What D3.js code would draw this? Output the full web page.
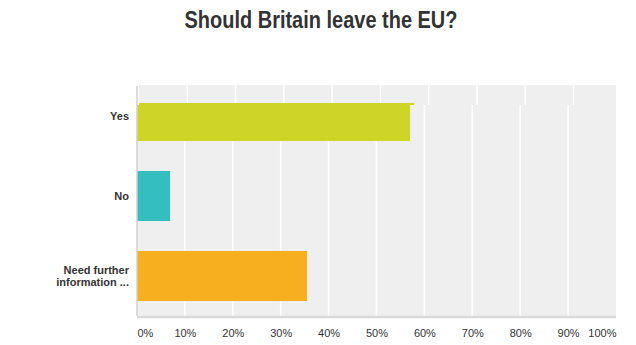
<!DOCTYPE html>
<html>
<head>
<meta charset="utf-8">
<script src="https://cdn.jsdelivr.net/npm/d3@7/dist/d3.min.js"></script>
<style>
  html, body { margin: 0; padding: 0; background: #fff; }
  svg { display: block; font-family: "Liberation Sans", Arial, sans-serif; }
</style>
</head>
<body>
<svg id="chart" width="636" height="345"></svg>
<script>
// Survey answers and their share of responses (percent)
const categories = ["Yes", "No", "Need further information ..."];
const categoryLines = [["Yes"], ["No"], ["Need further", "information ..."]];
const values = [57.0, 6.9, 35.5];
const colors = ["#cfd527", "#34bebf", "#f7af1f"];
const tickValues = [0, 10, 20, 30, 40, 50, 60, 70, 80, 90, 100];
const tickLabels = ["0%", "10%", "20%", "30%", "40%", "50%", "60%", "70%", "80%", "90%", "100%"];
const title = "Should Britain leave the EU?";

const svg = d3.select("#chart");
const plotLeft = 137, plotRight = 616, plotTop = 85, plotBottom = 316, headerBottom = 105;

const x = d3.scaleLinear().domain([0, 100]).range([plotLeft, plotRight]);
const y = d3.scaleBand().domain(categories).range([76, plotBottom])
  .paddingInner(0.375).paddingOuter(0.1875);

// Title
svg.append("text")
  .attr("x", 321).attr("y", 28)
  .attr("text-anchor", "middle")
  .attr("font-size", 23).attr("font-weight", "bold")
  .attr("fill", "#333")
  .attr("textLength", 273).attr("lengthAdjust", "spacingAndGlyphs")
  .text(title);

const defs = svg.append("defs");
defs.append("clipPath").attr("id", "clipMain")
  .append("rect").attr("x", plotLeft).attr("y", headerBottom)
  .attr("width", plotRight - plotLeft).attr("height", plotBottom - headerBottom);
defs.append("clipPath").attr("id", "clipHead")
  .append("rect").attr("x", plotLeft).attr("y", plotTop)
  .attr("width", plotRight - plotLeft).attr("height", headerBottom - plotTop);

// Draws background, grid and bars into a group
function drawPlot(g) {
  g.append("rect")
    .attr("x", plotLeft).attr("y", 60)
    .attr("width", plotRight - plotLeft + 20).attr("height", plotBottom - 60)
    .attr("fill", "#efefef");
  g.selectAll("line.grid")
    .data(tickValues.slice(1, -1))
    .join("line")
    .attr("class", "grid")
    .attr("x1", d => x(d)).attr("x2", d => x(d))
    .attr("y1", 60).attr("y2", plotBottom)
    .attr("stroke", "#fff").attr("stroke-width", 1.6);
  g.selectAll("rect.bar")
    .data(values)
    .join("rect")
    .attr("class", "bar")
    .attr("x", x(0))
    .attr("y", (d, i) => y(categories[i]))
    .attr("width", d => x(d) - x(0))
    .attr("height", y.bandwidth())
    .attr("fill", (d, i) => colors[i]);
}

// Main plot body
const mainG = svg.append("g").attr("clip-path", "url(#clipMain)");
drawPlot(mainG);

// Header band of the plot, slightly offset
const headWrap = svg.append("g").attr("clip-path", "url(#clipHead)");
const headG = headWrap.append("g")
  .attr("transform", `translate(139,12) scale(1.008,1) translate(${-plotLeft},0)`);
drawPlot(headG);

// Left axis line
svg.append("line")
  .attr("x1", plotLeft).attr("x2", plotLeft)
  .attr("y1", plotTop + 1).attr("y2", plotBottom)
  .attr("stroke", "#cfcfcf").attr("stroke-width", 1.5);

// Bottom axis
const xAxis = d3.axisBottom(x)
  .tickValues(tickValues)
  .tickSize(0)
  .tickPadding(0)
  .tickFormat((d, i) => tickLabels[i]);
const axG = svg.append("g").attr("transform", `translate(0,${plotBottom})`).call(xAxis);
axG.select(".domain").attr("stroke", "#dadada").attr("stroke-width", 2.5)
  .attr("d", `M${plotLeft},1H${plotRight}`);
axG.selectAll("text")
  .attr("y", 21)
  .attr("dy", 0)
  .attr("font-size", 11)
  .attr("font-family", "'Liberation Sans', Arial, sans-serif")
  .attr("fill", "#333")
  .attr("text-anchor", (d, i) => i === 0 ? "start" : (i === tickValues.length - 1 ? "end" : "middle"));

// Category labels
const labG = svg.append("g");
categories.forEach((c, i) => {
  const lines = categoryLines[i];
  const cy = y(c) + y.bandwidth() / 2;
  const t = labG.append("text")
    .attr("x", 129)
    .attr("text-anchor", "end")
    .attr("font-size", 11).attr("font-weight", "bold")
    .attr("fill", "#333");
  lines.forEach((ln, j) => {
    t.append("tspan")
      .attr("x", 129)
      .attr("y", cy + 4 + (j - (lines.length - 1) / 2) * 12)
      .text(ln);
  });
});
</script>
</body>
</html>
